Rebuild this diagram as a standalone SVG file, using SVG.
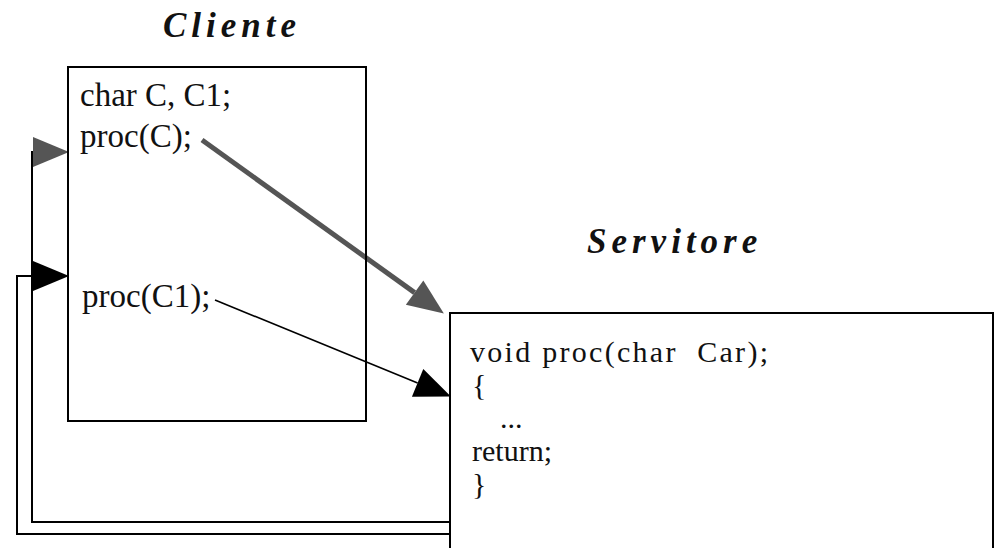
<svg xmlns="http://www.w3.org/2000/svg" width="997" height="548" viewBox="0 0 997 548">
  <style>
    .box { fill: none; stroke: #000; stroke-width: 2; }
    .code { font-family: "Liberation Serif", "Times New Roman", serif; font-size: 33px; fill: #111; white-space: pre; }
    .body { font-size: 30px; }
    .title { font-family: "Liberation Serif", "Times New Roman", serif; font-size: 35px; font-weight: bold; font-style: italic; letter-spacing: 5px; fill: #111; }
    .wire { fill: none; stroke: #000; stroke-width: 2; }
    .call { fill: none; stroke: #555; stroke-width: 5; }
    .thin { fill: none; stroke: #000; stroke-width: 1.6; }
  </style>
  <defs>
    <marker id="head-black" markerUnits="userSpaceOnUse" viewBox="0 -16 36 32" markerWidth="36" markerHeight="32" refX="0" refY="0" orient="auto" overflow="visible">
      <path d="M0,-15 L36,0 L0,15 Z" fill="#000"/>
    </marker>
    <marker id="head-grey" markerUnits="userSpaceOnUse" viewBox="0 -16 36 32" markerWidth="36" markerHeight="32" refX="0" refY="0" orient="auto" overflow="visible">
      <path d="M0,-15 L36,0 L0,15 Z" fill="#555"/>
    </marker>
  </defs>

  <rect width="997" height="548" fill="#fff"/>

  <g id="connectors">
    <!-- call proc(C) and its return -->
    <path class="call" d="M202,140 L414.6,292.6" marker-end="url(#head-grey)"/>
    <path class="wire" d="M450,522 H32 V152 H33" marker-end="url(#head-grey)"/>
    <!-- call proc(C1) and its return -->
    <path class="thin" d="M215,300 L417.6,382.9" marker-end="url(#head-black)"/>
    <path class="wire" d="M450,534 H17 V276 H33" marker-end="url(#head-black)"/>
  </g>

  <g id="cliente">
    <text class="title" x="163" y="37">Cliente</text>
    <rect class="box" x="68" y="67" width="298" height="354"/>
    <text class="code" x="80" y="106">char C, C1;</text>
    <text class="code" x="80" y="147">proc(C);</text>
    <text class="code" x="82" y="307">proc(C1);</text>
  </g>

  <g id="servitore">
    <text class="title" x="587" y="253">Servitore</text>
    <rect class="box" x="450" y="313" width="543" height="250"/>
    <text class="code body" x="470" y="362" textLength="298" lengthAdjust="spacing">void proc(char  Car);</text>
    <text class="code body" x="472" y="395">{</text>
    <text class="code body" x="500" y="428">...</text>
    <text class="code body" x="472" y="461">return;</text>
    <text class="code body" x="472" y="494">}</text>
  </g>
</svg>
